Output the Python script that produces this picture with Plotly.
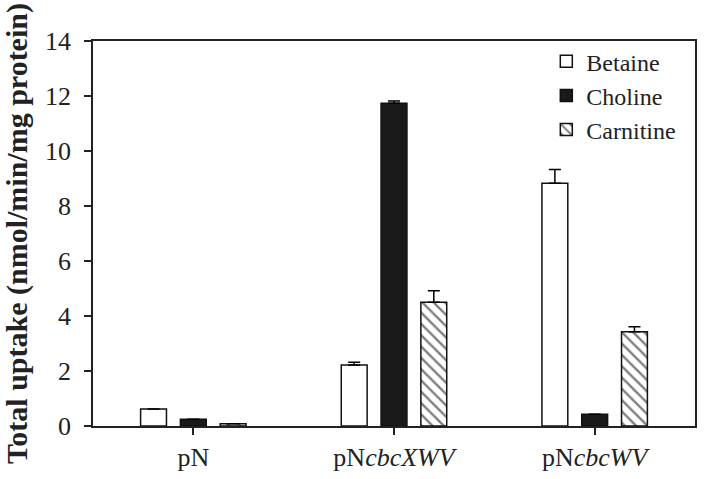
import plotly.graph_objects as go

categories = ["pN", "pN<i>cbcXWV</i>", "pN<i>cbcWV</i>"]
betaine = [0.62, 2.22, 8.83]
betaine_err = [0.0, 0.10, 0.50]
choline = [0.25, 11.74, 0.43]
choline_err = [0.0, 0.08, 0.0]
carnitine = [0.08, 4.50, 3.43]
carnitine_err = [0.0, 0.42, 0.18]
y_ticks = [0, 2, 4, 6, 8, 10, 12, 14]

FONT = "Liberation Serif"

def err(arr):
    return dict(type="data", array=arr, arrayminus=[0] * len(arr), symmetric=False,
                color="black", thickness=1.5, width=6, visible=True)

fig = go.Figure()
fig.add_trace(go.Bar(name="Betaine", x=categories, y=betaine, error_y=err(betaine_err),
                     marker=dict(color="white", line=dict(color="#111", width=1.5))))
fig.add_trace(go.Bar(name="Choline", x=categories, y=choline, error_y=err(choline_err),
                     marker=dict(color="#1a1a1a", line=dict(color="#111", width=1.5))))
fig.add_trace(go.Bar(name="Carnitine", x=categories, y=carnitine, error_y=err(carnitine_err),
                     marker=dict(color="white", line=dict(color="#111", width=1.5),
                                 pattern=dict(shape="\\", fgcolor="#000", bgcolor="white",
                                              size=8, solidity=0.3))))

fig.update_layout(
    width=704, height=479,
    margin=dict(l=93, r=7, t=41, b=51),
    paper_bgcolor="white", plot_bgcolor="white",
    barmode="group", bargap=0.405, bargroupgap=0.35,
    font=dict(family=FONT, color="#222"),
    showlegend=True,
    legend=dict(x=0.753, y=1.005, xanchor="left", yanchor="top",
                font=dict(family=FONT, size=24, color="#222"),
                bgcolor="rgba(0,0,0,0)", tracegroupgap=4),
    xaxis=dict(showline=True, linecolor="#222", linewidth=1.5, mirror=True,
               ticks="outside", ticklen=7, tickcolor="#222", tickwidth=1.5,
               tickfont=dict(family=FONT, size=26, color="#222"),
               showgrid=False, zeroline=False, range=[-0.5, 2.5]),
    yaxis=dict(showline=True, linecolor="#222", linewidth=1.5, mirror=True,
               ticks="outside", ticklen=7, tickcolor="#222", tickwidth=1.5,
               tickvals=y_ticks, range=[0, 14], ticklabelstandoff=8,
               tickfont=dict(family=FONT, size=26, color="#222"),
               showgrid=False, zeroline=False,
               title=dict(text="<b>Total uptake (nmol/min/mg protein)</b>",
                          font=dict(family=FONT, size=30, color="#222"), standoff=12)),
)

fig.write_html("out.html", config={"displayModeBar": False},
               post_script="document.body.style.margin='0';")
